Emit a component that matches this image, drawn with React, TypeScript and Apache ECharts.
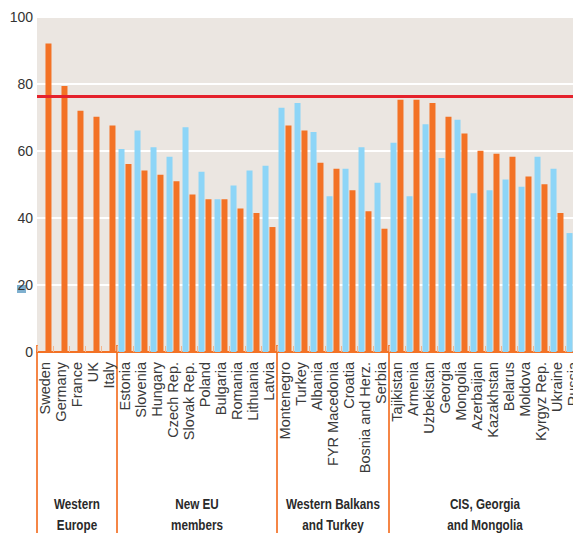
import React, { useEffect, useRef } from "react";
import * as echarts from "echarts";

const countries = [
  "Sweden", "Germany", "France", "UK", "Italy",
  "Estonia", "Slovenia", "Hungary", "Czech Rep.", "Slovak Rep.", "Poland", "Bulgaria", "Romania", "Lithuania", "Latvia",
  "Montenegro", "Turkey", "Albania", "FYR Macedonia", "Croatia", "Bosnia and Herz.", "Serbia",
  "Tajikistan", "Armenia", "Uzbekistan", "Georgia", "Mongolia", "Azerbaijan", "Kazakhstan", "Belarus", "Moldova", "Kyrgyz Rep.", "Ukraine", "Russia",
];

const blueValues: (number | null)[] = [
  null, null, null, null, null,
  60.6, 66.1, 61.1, 58.3, 67.1, 53.8, 45.6, 49.7, 54.2, 55.6,
  72.9, 74.3, 65.7, 46.5, 54.7, 61.1, 50.5,
  62.5, 46.5, 68.0, 57.9, 69.3, 47.4, 48.3, 51.5, 49.3, 58.3, 54.7, 35.5,
];

const orangeValues: (number | null)[] = [
  92.1, 79.4, 72.0, 70.2, 67.6,
  56.1, 54.2, 52.9, 51.0, 47.0, 45.6, 45.6, 42.8, 41.5, 37.3,
  67.6, 66.1, 56.5, 54.7, 48.3, 42.0, 36.8,
  75.3, 75.3, 74.3, 70.2, 65.2, 60.1, 59.2, 58.3, 52.4, 50.1, 41.5, null,
];

const groupNames = ["Western\nEurope", "New EU\nmembers", "Western Balkans\nand Turkey", "CIS, Georgia\nand Mongolia"];
const groupSizes = [5, 10, 7, 12];

const referenceLine = 76.2;

const ORANGE = "#f37225";
const BLUE = "#8dd5f7";
const BG = "#ebe6e1";

export default function App() {
  const ref = useRef<HTMLDivElement>(null);
  useEffect(() => {
    if (!ref.current) return;
    const chart = echarts.init(ref.current, null, { renderer: "svg" });
    chart.setOption({
      animation: false,
      grid: {
        left: 37, right: 19, top: 17, bottom: 183,
        show: true, backgroundColor: BG, borderWidth: 0,
      },
      xAxis: {
        type: "category",
        data: countries,
        axisLine: { lineStyle: { color: ORANGE, width: 2 } },
        axisTick: { show: true, inside: true, length: 6, lineStyle: { color: "#f5b58c", width: 1 } },
        axisLabel: {
          interval: 0, rotate: 90, margin: 10,
          fontSize: 14.5, color: "#3a3a3a", fontFamily: "'Liberation Sans', Arial, sans-serif",
        },
      },
      yAxis: {
        type: "value", min: 0, max: 100, interval: 20,
        axisLine: { show: false }, axisTick: { show: false },
        splitLine: { lineStyle: { color: "#ffffff", width: 2 } },
        axisLabel: { margin: 4, fontSize: 14, color: "#333333", fontFamily: "'Liberation Sans', Arial, sans-serif" },
      },
      series: [
        {
          type: "bar", data: blueValues, barWidth: 6, barGap: "16%",
          itemStyle: { color: BLUE },
        },
        {
          type: "bar", data: orangeValues, barWidth: 6, barGap: "16%",
          itemStyle: { color: ORANGE },
          markLine: {
            silent: true, symbol: "none",
            label: { show: false },
            lineStyle: { color: "#e5222c", width: 3, type: "solid" },
            data: [{ yAxis: referenceLine }],
          },
        },
      ],
    });

    const c0 = chart.convertToPixel({ xAxisIndex: 0 }, countries[0]) as number;
    const c1 = chart.convertToPixel({ xAxisIndex: 0 }, countries[1]) as number;
    const bw = c1 - c0;
    const axisY = chart.convertToPixel({ yAxisIndex: 0 }, 0) as number;
    const graphics: any[] = [];
    let start = 0;
    const bottomY = 533;
    for (let g = 0; g <= groupSizes.length; g++) {
      const x = c0 - bw / 2 + start * bw;
      graphics.push({
        type: "line", silent: true,
        shape: { x1: x, y1: axisY - 7, x2: x, y2: bottomY },
        style: { stroke: "#f58646", lineWidth: 2 },
      });
      if (g < groupSizes.length) {
        const cx = c0 - bw / 2 + (start + groupSizes[g] / 2) * bw;
        graphics.push({
          type: "text", silent: true, x: cx, y: axisY + 162.5, scaleX: 0.78,
          style: {
            text: groupNames[g], align: "center", verticalAlign: "middle",
            fontSize: 15, fontWeight: "bold", lineHeight: 21, fill: "#2a2a2a",
            fontFamily: "'Liberation Sans', Arial, sans-serif",
          },
        });
        start += groupSizes[g];
      }
    }
    graphics.push({
      type: "rect", silent: true, z: -1,
      shape: { x: 17, y: 285, width: 9, height: 8 },
      style: { fill: "#7fb0cf" },
    });
    chart.setOption({ graphic: graphics });
    return () => chart.dispose();
  }, []);
  return (
    <div style={{ position: "fixed", left: 0, top: 0, width: 573, height: 535, overflow: "hidden", background: "#fff" }}>
      <div ref={ref} style={{ width: 600, height: 535 }} />
    </div>
  );
}
